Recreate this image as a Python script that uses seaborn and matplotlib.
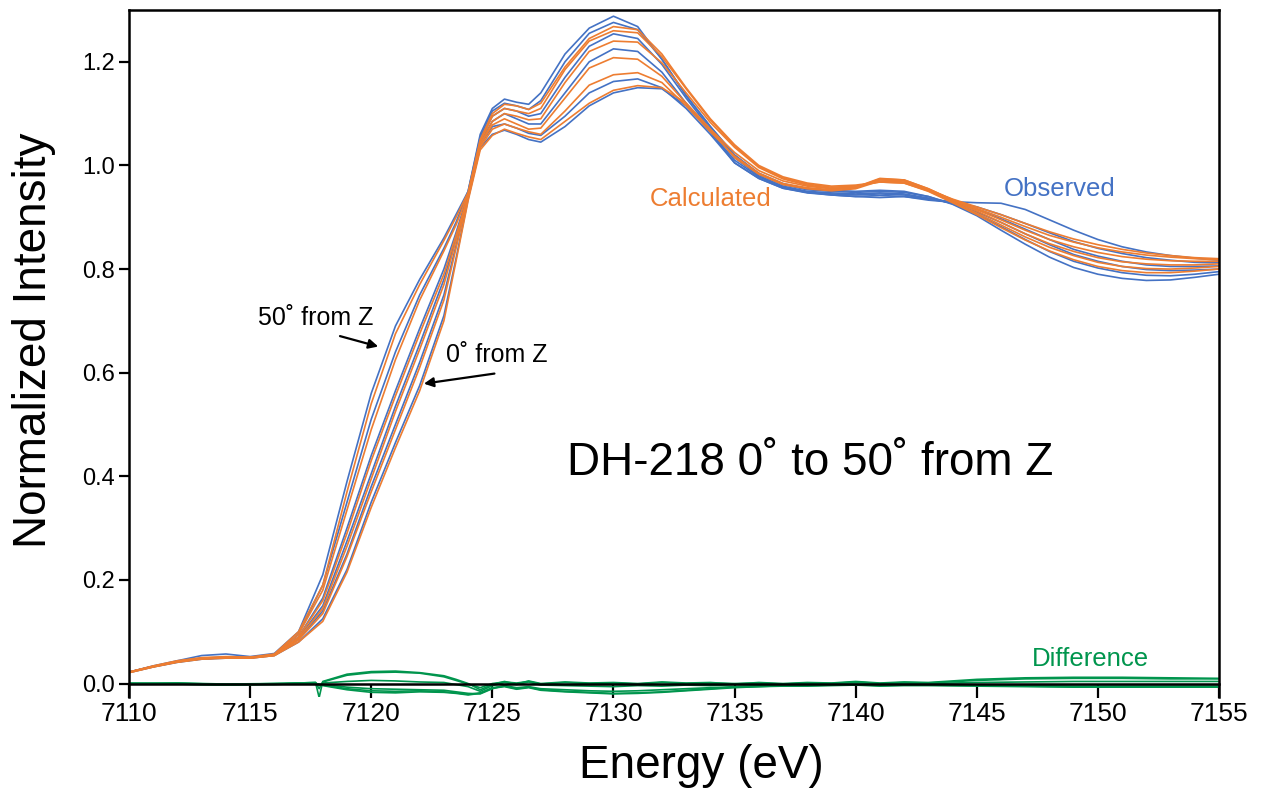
import numpy as np
import matplotlib
matplotlib.use("Agg")
import matplotlib.pyplot as plt
import seaborn as sns

### energy grid (eV) shared by observed / calculated spectra
energy = [7110, 7111, 7112, 7113, 7114, 7115, 7116, 7117, 7118, 7119, 7120, 7121, 7122, 7123, 7123.5,
          7124, 7124.5, 7125, 7125.5, 7126, 7126.5, 7127, 7128, 7129, 7130, 7131, 7132, 7133, 7134,
          7135, 7136, 7137, 7138, 7139, 7140, 7141, 7142, 7143, 7144, 7145, 7146, 7147, 7148, 7149,
          7150, 7151, 7152, 7153, 7154, 7155]

### observed (blue), one per angle from Z
obs_50 = [0.022, 0.034, 0.044, 0.054, 0.057, 0.052, 0.058, 0.10, 0.21, 0.39, 0.56, 0.69, 0.78, 0.86, 0.905, 0.95,
          1.06, 1.11, 1.128, 1.122, 1.118,
          1.14, 1.215, 1.265, 1.288, 1.268, 1.205, 1.135, 1.075, 1.02, 0.985,
          0.965, 0.955, 0.952, 0.95, 0.952, 0.95, 0.94, 0.925, 0.903, 0.875,
          0.848, 0.823, 0.803, 0.79, 0.782, 0.778, 0.779, 0.784, 0.79]
obs_40 = [0.022, 0.033, 0.043, 0.049, 0.051, 0.050, 0.056, 0.095, 0.19, 0.35, 0.51, 0.64, 0.75, 0.84, 0.89, 0.95,
          1.055, 1.105, 1.12, 1.115, 1.108,
          1.125, 1.20, 1.255, 1.276, 1.262, 1.205, 1.135, 1.075, 1.02, 0.983,
          0.963, 0.953, 0.95, 0.948, 0.95, 0.948, 0.94, 0.926, 0.906, 0.882,
          0.857, 0.834, 0.815, 0.802, 0.793, 0.788, 0.787, 0.79, 0.795]
obs_30 = [0.022, 0.033, 0.042, 0.048, 0.050, 0.050, 0.055, 0.09, 0.165, 0.30, 0.44, 0.565, 0.685, 0.80, 0.87, 0.945,
          1.05, 1.095, 1.11, 1.105, 1.095,
          1.10, 1.17, 1.23, 1.254, 1.245, 1.195, 1.13, 1.07, 1.015, 0.98,
          0.96, 0.95, 0.947, 0.945, 0.947, 0.945, 0.937, 0.927, 0.91, 0.89,
          0.868, 0.847, 0.828, 0.815, 0.805, 0.799, 0.797, 0.798, 0.80]
obs_20 = [0.022, 0.033, 0.042, 0.048, 0.050, 0.050, 0.055, 0.088, 0.15, 0.275, 0.405, 0.535, 0.655, 0.78, 0.86, 0.94,
          1.045, 1.085, 1.10, 1.09, 1.08,
          1.08, 1.14, 1.20, 1.225, 1.22, 1.18, 1.12, 1.065, 1.01, 0.978,
          0.958, 0.948, 0.945, 0.943, 0.945, 0.943, 0.935, 0.928, 0.915, 0.897,
          0.877, 0.857, 0.838, 0.825, 0.815, 0.808, 0.805, 0.805, 0.806]
obs_10 = [0.022, 0.033, 0.042, 0.048, 0.050, 0.050, 0.055, 0.085, 0.14, 0.25, 0.38, 0.50, 0.62, 0.75, 0.845, 0.94,
          1.04, 1.075, 1.08, 1.072, 1.062,
          1.058, 1.095, 1.14, 1.162, 1.167, 1.15, 1.11, 1.06, 1.005, 0.975,
          0.956, 0.947, 0.943, 0.94, 0.942, 0.94, 0.933, 0.929, 0.92, 0.905,
          0.888, 0.87, 0.853, 0.84, 0.83, 0.822, 0.817, 0.813, 0.812]
obs_0 = [0.021, 0.032, 0.041, 0.047, 0.049, 0.049, 0.054, 0.08, 0.125, 0.22, 0.35, 0.465, 0.575, 0.71, 0.82, 0.935,
         1.035, 1.06, 1.068, 1.06, 1.05,
         1.045, 1.075, 1.115, 1.14, 1.15, 1.148, 1.115, 1.065, 1.005, 0.975,
         0.956, 0.948, 0.943, 0.94, 0.938, 0.94, 0.935, 0.93, 0.928, 0.927,
         0.915, 0.895, 0.875, 0.857, 0.843, 0.833, 0.826, 0.821, 0.817]

### calculated (orange)
calc_50 = [0.022, 0.034, 0.044, 0.050, 0.052, 0.051, 0.057, 0.10, 0.19, 0.37, 0.54, 0.675, 0.77, 0.855, 0.90, 0.948,
           1.05, 1.10, 1.118, 1.115, 1.108,
           1.12, 1.19, 1.245, 1.268, 1.262, 1.215, 1.15, 1.09, 1.04, 1.0,
           0.978, 0.966, 0.96, 0.962, 0.968, 0.966, 0.95, 0.928, 0.905, 0.88,
           0.856, 0.835, 0.818, 0.805, 0.797, 0.793, 0.793, 0.796, 0.80]
calc_40 = [0.022, 0.033, 0.043, 0.049, 0.050, 0.050, 0.056, 0.095, 0.18, 0.335, 0.49, 0.625, 0.74, 0.835, 0.885, 0.945,
           1.045, 1.095, 1.11, 1.105, 1.10,
           1.11, 1.185, 1.24, 1.26, 1.256, 1.21, 1.148, 1.088, 1.038, 0.998,
           0.976, 0.964, 0.958, 0.96, 0.968, 0.966, 0.951, 0.93, 0.908, 0.885,
           0.862, 0.842, 0.826, 0.813, 0.805, 0.801, 0.80, 0.802, 0.805]
calc_30 = [0.022, 0.033, 0.042, 0.048, 0.050, 0.050, 0.055, 0.09, 0.16, 0.29, 0.43, 0.555, 0.675, 0.79, 0.865, 0.942,
           1.04, 1.085, 1.10, 1.095, 1.088,
           1.09, 1.16, 1.22, 1.24, 1.238, 1.198, 1.14, 1.083, 1.035, 0.996,
           0.974, 0.962, 0.956, 0.958, 0.972, 0.97, 0.953, 0.932, 0.912, 0.89,
           0.868, 0.849, 0.834, 0.822, 0.814, 0.81, 0.808, 0.808, 0.81]
calc_20 = [0.022, 0.033, 0.042, 0.048, 0.050, 0.050, 0.055, 0.087, 0.145, 0.265, 0.395, 0.525, 0.645, 0.77, 0.855, 0.94,
           1.04, 1.078, 1.09, 1.08, 1.07,
           1.072, 1.13, 1.188, 1.208, 1.205, 1.172, 1.12, 1.07, 1.025, 0.99,
           0.97, 0.96, 0.955, 0.958, 0.975, 0.972, 0.955, 0.933, 0.915, 0.895,
           0.875, 0.857, 0.843, 0.832, 0.824, 0.819, 0.816, 0.815, 0.815]
calc_10 = [0.021, 0.032, 0.042, 0.048, 0.050, 0.049, 0.054, 0.084, 0.135, 0.245, 0.37, 0.49, 0.61, 0.74, 0.84, 0.938,
           1.035, 1.07, 1.08, 1.072, 1.065,
           1.06, 1.105, 1.155, 1.175, 1.179, 1.16, 1.115, 1.065, 1.018, 0.985,
           0.965, 0.957, 0.953, 0.957, 0.974, 0.972, 0.955, 0.934, 0.917, 0.90,
           0.882, 0.865, 0.852, 0.841, 0.833, 0.827, 0.823, 0.82, 0.818]
calc_0 = [0.021, 0.032, 0.041, 0.047, 0.049, 0.049, 0.054, 0.08, 0.12, 0.215, 0.34, 0.455, 0.565, 0.70, 0.815, 0.932,
          1.03, 1.058, 1.07, 1.062, 1.055,
          1.05, 1.085, 1.12, 1.145, 1.154, 1.15, 1.12, 1.07, 1.015, 0.983,
          0.963, 0.955, 0.951, 0.955, 0.97, 0.968, 0.953, 0.935, 0.92, 0.905,
          0.888, 0.872, 0.858, 0.847, 0.838, 0.831, 0.826, 0.822, 0.82]

### difference (green), own energy grid
energy_diff = [7110, 7112, 7114, 7116, 7117, 7117.7, 7117.85, 7118, 7119, 7120, 7121, 7122, 7123, 7123.5,
               7124, 7124.5, 7125, 7125.5, 7126, 7126.5, 7127, 7128, 7129, 7130, 7131, 7132, 7133, 7134,
               7135, 7136, 7137, 7138, 7139, 7140, 7141, 7142, 7143, 7145, 7147, 7149, 7151, 7153, 7155]
diff_50 = [0.000, 0.001, -0.002, 0.000, 0.001, 0.002, -0.027, 0.004, 0.018, 0.023, 0.024, 0.021, 0.015, 0.008,
           0.000, -0.012, -0.002, 0.004, -0.001, 0.005, 0.000, 0.003, 0.001, 0.002, 0.000, 0.003, 0.001, 0.002,
           -0.001, 0.002, 0.000, 0.002, 0.001, 0.004, 0.001, 0.003, 0.002, 0.008, 0.011, 0.012, 0.012, 0.011, 0.010]
diff_40 = [0.000, 0.001, -0.001, 0.000, 0.001, 0.002, -0.010, 0.003, 0.016, 0.021, 0.022, 0.020, 0.013, 0.006,
           -0.001, -0.008, 0.000, 0.003, 0.001, 0.004, -0.001, 0.002, 0.000, 0.001, -0.001, 0.002, 0.000, 0.001,
           0.000, 0.001, -0.001, 0.001, 0.000, 0.003, 0.000, 0.002, 0.001, 0.006, 0.009, 0.010, 0.010, 0.009, 0.009]
diff_30 = [0.000, 0.000, -0.002, -0.001, 0.000, 0.001, -0.004, 0.001, 0.004, 0.006, 0.005, 0.003, 0.002, -0.002,
           -0.006, -0.015, -0.004, 0.002, -0.002, 0.003, -0.003, -0.004, -0.005, -0.006, -0.004, -0.005, -0.003, -0.004,
           -0.002, -0.003, -0.001, -0.002, 0.000, 0.002, -0.001, 0.001, 0.000, 0.002, 0.003, 0.004, 0.004, 0.004, 0.004]
diff_20 = [0.000, -0.001, -0.003, -0.001, 0.000, 0.001, -0.003, -0.002, -0.007, -0.010, -0.011, -0.012, -0.013, -0.016,
           -0.019, -0.020, -0.010, -0.004, -0.008, -0.006, -0.010, -0.012, -0.014, -0.015, -0.014, -0.012, -0.010, -0.008,
           -0.006, -0.005, -0.004, -0.003, -0.002, -0.001, -0.003, -0.002, -0.002, -0.003, -0.004, -0.005, -0.005, -0.005, -0.005]
diff_10 = [0.000, -0.001, -0.003, -0.002, 0.000, 0.000, -0.002, -0.003, -0.010, -0.014, -0.015, -0.014, -0.016, -0.018,
           -0.021, -0.018, -0.008, -0.005, -0.010, -0.007, -0.012, -0.015, -0.017, -0.019, -0.018, -0.016, -0.013, -0.010,
           -0.007, -0.006, -0.004, -0.004, -0.003, -0.002, -0.004, -0.003, -0.003, -0.004, -0.005, -0.006, -0.006, -0.006, -0.006]
diff_0 = [0.000, -0.001, -0.002, -0.001, 0.000, 0.000, -0.001, -0.004, -0.012, -0.017, -0.018, -0.016, -0.017, -0.019,
          -0.022, -0.019, -0.009, -0.006, -0.011, -0.008, -0.013, -0.016, -0.018, -0.020, -0.019, -0.017, -0.014, -0.011,
          -0.008, -0.006, -0.005, -0.005, -0.004, -0.003, -0.005, -0.004, -0.004, -0.005, -0.006, -0.007, -0.007, -0.007, -0.007]

observed = [obs_0, obs_10, obs_20, obs_30, obs_40, obs_50]
calculated = [calc_0, calc_10, calc_20, calc_30, calc_40, calc_50]
differences = [diff_0, diff_10, diff_20, diff_30, diff_40, diff_50]

BLUE = "#4472C4"
ORANGE = "#ED7D31"
GREEN = "#00954D"

sns.set_style("ticks")
plt.rcParams['font.family'] = ['Liberation Sans', 'DejaVu Sans']
plt.rcParams['text.color'] = 'black'
plt.rcParams['axes.labelcolor'] = 'black'
plt.rcParams['xtick.color'] = 'black'
plt.rcParams['ytick.color'] = 'black'

fig = plt.figure(figsize=(12.68, 7.91), dpi=100)
ax = fig.add_axes([129/1268, 1-697/791, (1219-129)/1268, (697-10)/791])

for y in observed:
	sns.lineplot(x=energy, y=y, color=BLUE, lw=1.2, ax=ax)
for y in calculated:
	sns.lineplot(x=energy, y=y, color=ORANGE, lw=1.2, ax=ax)
for y in differences:
	sns.lineplot(x=energy_diff, y=y, color=GREEN, lw=1.2, ax=ax)

ax.set_xlim(7110, 7155)
ax.set_ylim(-0.026, 1.30)
ax.set_xticks(np.arange(7110, 7156, 5))
ax.set_yticks(np.arange(0, 1.21, 0.2))
ax.set_yticklabels(["%.1f" % v for v in np.arange(0, 1.21, 0.2)])
ax.spines['bottom'].set_position(('data', 0))
for s in ax.spines.values():
	s.set_linewidth(1.8)
	s.set_color('k')
ax.tick_params(axis='x', direction='out', length=10, width=1.6, labelsize=19, pad=3)
ax.tick_params(axis='y', direction='out', length=7, width=1.6, labelsize=17, pad=3)

ax.set_xlabel("Energy (eV)", fontsize=33)
ax.set_ylabel("Normalized Intensity", fontsize=33)
ax.xaxis.set_label_coords(0.525, -0.068)
ax.yaxis.set_label_coords(-0.067, 0.52)

ax.text(7134.0, 0.936, "Calculated", color=ORANGE, fontsize=18.5, ha='center', va='center')
ax.text(7148.4, 0.955, "Observed", color=BLUE, fontsize=18.5, ha='center', va='center')
ax.text(7149.7, 0.048, "Difference", color=GREEN, fontsize=18.5, ha='center', va='center')
ax.text(7128.1, 0.426, "DH-218 0˚ to 50˚ from Z", fontsize=33, ha='left', va='center')

ax.text(7117.7, 0.705, "50˚ from Z", fontsize=18, ha='center', va='center')
ax.annotate("", xy=(7120.4, 0.649), xytext=(7118.6, 0.672),
            arrowprops=dict(arrowstyle='-|>', color='k', lw=1.6, mutation_scale=14))
ax.text(7125.2, 0.634, "0˚ from Z", fontsize=18, ha='center', va='center')
ax.annotate("", xy=(7122.06, 0.578), xytext=(7125.2, 0.599),
            arrowprops=dict(arrowstyle='-|>', color='k', lw=1.6, mutation_scale=14))

plt.savefig("out.png", dpi=100)
